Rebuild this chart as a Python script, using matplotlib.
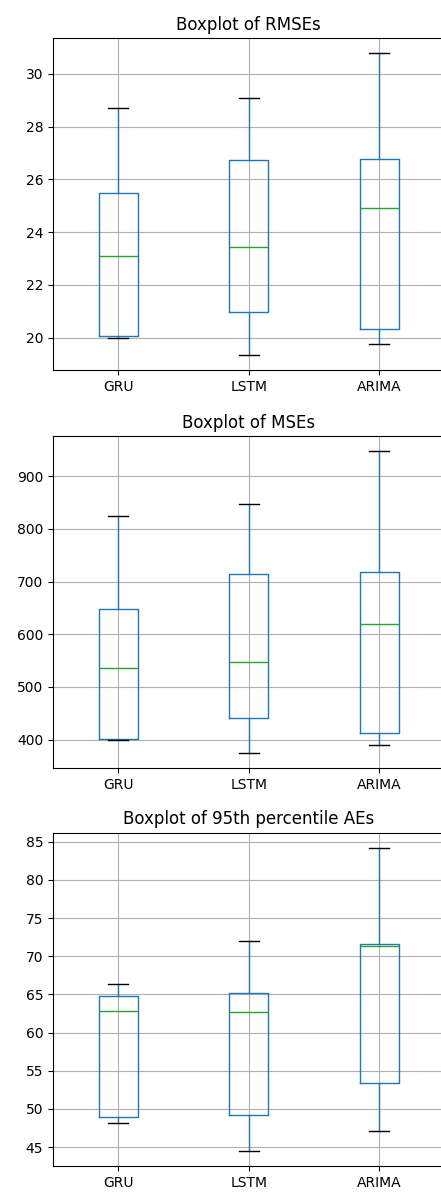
import matplotlib
matplotlib.use('Agg')
import matplotlib.pyplot as plt

models = ['GRU', 'LSTM', 'ARIMA']

# five-number summaries: low whisker, Q1, median, Q3, high whisker
rmse_stats = [
    [20.00, 20.05, 23.11, 25.49, 28.71],
    [19.33, 20.96, 23.42, 26.72, 29.09],
    [19.76, 20.33, 24.90, 26.77, 30.78],
]
mse_stats = [
    [400.0, 401.9, 535.3, 648.4, 825.0],
    [373.9, 441.3, 546.8, 714.5, 846.6],
    [390.5, 412.1, 619.8, 718.3, 947.6],
]
p95_stats = [
    [48.16, 49.00, 62.83, 64.81, 66.39],
    [44.52, 49.18, 62.70, 65.16, 72.00],
    [47.16, 53.35, 71.39, 71.65, 84.21],
]
titles = ['Boxplot of RMSEs', 'Boxplot of MSEs', 'Boxplot of 95th percentile AEs']


def to_bxp(stats):
    out = []
    for name, s in zip(models, stats):
        out.append({'label': name, 'whislo': s[0], 'q1': s[1], 'med': s[2],
                    'q3': s[3], 'whishi': s[4], 'fliers': []})
    return out


fig = plt.figure(figsize=(4.41, 11.95), dpi=100)
panels = [
    [0.120, 0.690, 0.888, 0.278],
    [0.120, 0.357, 0.888, 0.278],
    [0.120, 0.0243, 0.888, 0.279],
]

for rect, stats, title in zip(panels, [rmse_stats, mse_stats, p95_stats], titles):
    ax = fig.add_axes(rect)
    ax.bxp(to_bxp(stats), showfliers=False,
           boxprops=dict(color='#1f77b4'),
           whiskerprops=dict(color='#1f77b4'),
           medianprops=dict(color='#2ca02c'),
           capprops=dict(color='black'))
    ax.grid(True)
    ax.set_title(title, fontsize=12)
    ax.tick_params(labelsize=10)

fig.savefig('out.png', dpi=100)
